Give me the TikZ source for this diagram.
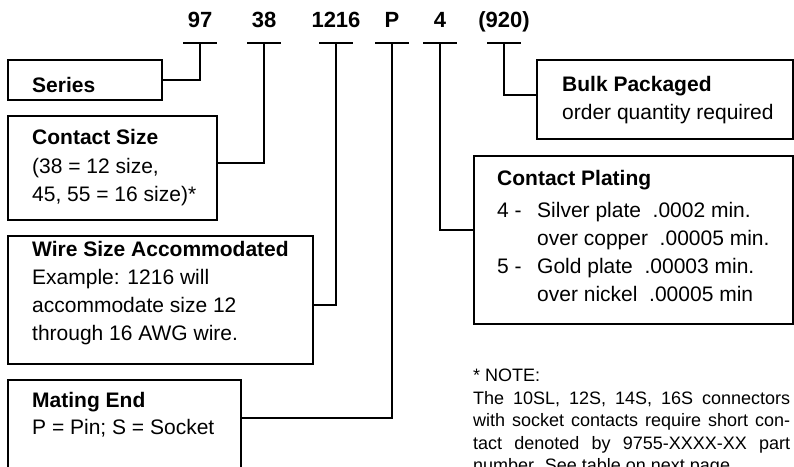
\documentclass[tikz,border=0pt]{standalone}
\usepackage{fontspec}
\setmainfont{Liberation Sans}
\usetikzlibrary{calc}
\tikzset{box/.style={draw,rectangle,line width=1.8pt,inner sep=0pt,anchor=north west},
         btxt/.style={anchor=north west,inner sep=0pt,align=left,font=\fontsize{21}{28}\selectfont},
         code/.style={anchor=base,inner sep=0pt,font=\fontsize{22}{26}\selectfont\bfseries},
         lead/.style={line width=1.8pt},
         notetxt/.style={anchor=north west,inner sep=0pt,text width=317pt,align=justify,font=\fontsize{18}{22.5}\selectfont}
         }

\begin{document}
\begin{tikzpicture}[x=1pt,y=-1pt]
        \useasboundingbox (0,0) rectangle (794,466);

        % part number
        \node[code] (c97) at (200,27) {97};
        \node[code] (c38) at (264,27) {38};
        \node[code] (c1216) at (336,27) {1216};
        \node[code] (cP) at (392,27) {P};
        \node[code] (c4) at (440,27) {4};
        \node[code] (c920) at (504,27) {(920)};
        \coordinate (u97) at (200,43);
        \coordinate (u38) at (264,43);
        \coordinate (u1216) at (336,43);
        \coordinate (uP) at (392,43);
        \coordinate (u4) at (440,43);
        \coordinate (u920) at (504,43);
        \draw[lead] ([xshift=-17pt]u97) -- ([xshift=17pt]u97);
        \draw[lead] ([xshift=-17pt]u38) -- ([xshift=17pt]u38);
        \draw[lead] ([xshift=-17pt]u1216) -- ([xshift=17pt]u1216);
        \draw[lead] ([xshift=-17pt]uP) -- ([xshift=17pt]uP);
        \draw[lead] ([xshift=-17pt]u4) -- ([xshift=17pt]u4);
        \draw[lead] ([xshift=-17pt]u920) -- ([xshift=17pt]u920);

        % boxes
        \node[box, minimum width=154pt, minimum height=40pt] (series) at (7,59) {};
        \node[box, minimum width=209pt, minimum height=104pt] (csize) at (7,115) {};
        \node[box, minimum width=305pt, minimum height=128pt] (wire) at (7,235) {};
        \node[box, minimum width=233pt, minimum height=100pt] (mating) at (7,379) {};
        \node[box, minimum width=256pt, minimum height=79pt] (bulk) at (536,59) {};
        \node[box, minimum width=319pt, minimum height=168pt] (plating) at (473,155) {};

        % texts (top of first line = baseline - cap height)
        \node[btxt] (seriest) at (32,77) {\textbf{Series}};
        \node[btxt] (csizet) at (32,129) {\textbf{Contact Size}\\[1pt]
            (38 = 12 size,\\ 45, 55 = 16 size)*};
        \node[btxt] (wiret) at (32,241) {\textbf{Wire Size Accommodated}\\
            Example: 1216 will\\ accommodate size 12\\ through 16 AWG wire.};
        \node[btxt] (matingt) at (32,392) {\textbf{Mating End}\\[-1pt] P = Pin; S = Socket};
        \node[btxt] (bulkt) at (562,76) {\textbf{Bulk Packaged}\\ order quantity required};
        \node[btxt] (platingt) at (497,170) {\textbf{Contact Plating}\\[4pt]
            \makebox[40pt][l]{4 -}Silver plate\ \ .0002 min.\\
            \hspace*{40pt}over copper\ \ .00005 min.\\
            \makebox[40pt][l]{5 -}Gold plate\ \ .00003 min.\\
            \hspace*{40pt}over nickel\ \ .00005 min};

        \node[notetxt] (note) at (473,369) {* NOTE:\\
            The 10SL, 12S, 14S, 16S connectors\linebreak
            with socket contacts require short con-\linebreak
            tact denoted by 9755-XXXX-XX part\linebreak
            number. See table on next page.};

        % leaders
        \draw[lead] (u97) |- (series.east);
        \draw[lead] (u38) |- ($(csize.north east)+(0,48)$);
        \draw[lead] (u1216) |- ($(wire.north east)+(0,70)$);
        \draw[lead] (uP) |- ($(mating.north east)+(0,39)$);
        \draw[lead] (u4) |- ($(plating.north west)+(0,75)$);
        \draw[lead] (u920) |- ($(bulk.north west)+(0,36)$);
\end{tikzpicture}
\end{document}
